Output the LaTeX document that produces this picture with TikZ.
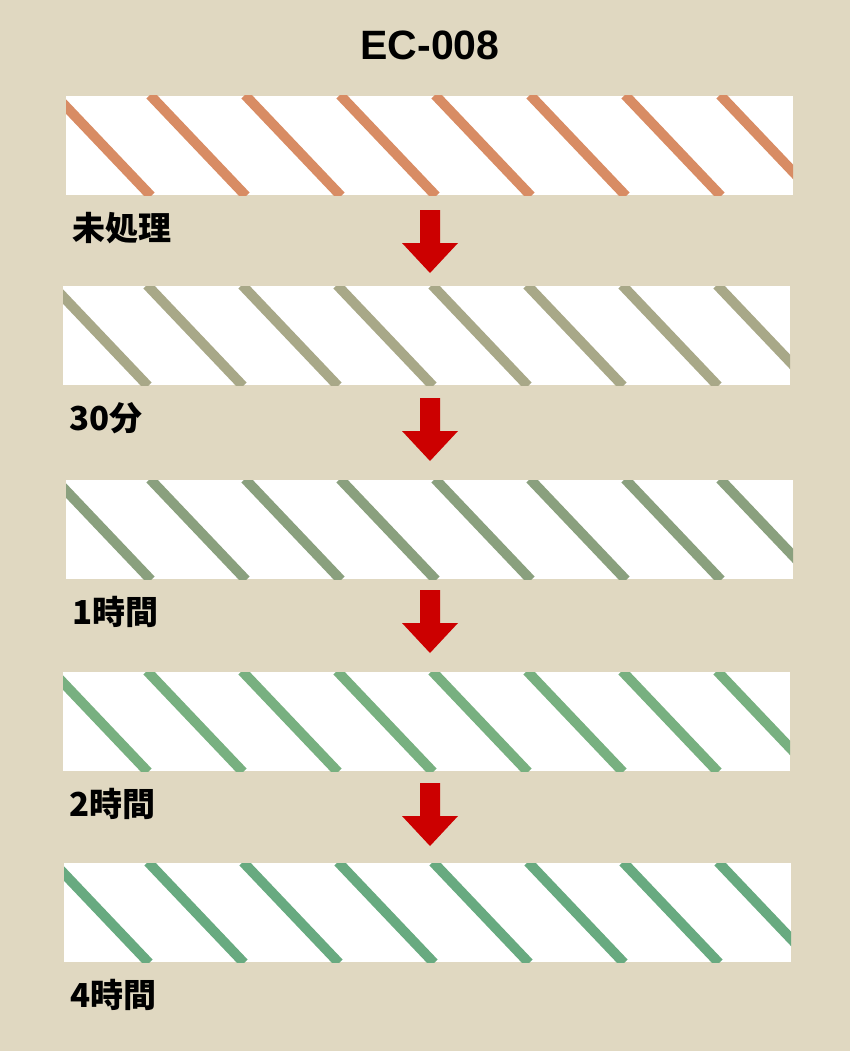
\documentclass[tikz,border=0pt]{standalone}
\usepackage{fontspec}
\newfontfamily\jp{Noto Sans CJK JP}
\newfontfamily\lat{Liberation Sans}
\begin{document}
\begin{tikzpicture}[x=1pt,y=-1pt,
  lbl/.style={anchor=west,font=\jp\bold\fontsize{33}{36}\selectfont,text=black,inner sep=0},
  arr/.style={fill=red!80!black}]
\def\bold{\fontseries{b}\selectfont}
\fill[fill={rgb,255:red,224;green,216;blue,193}] (0,0) rectangle (850,1051);
\useasboundingbox (0,0) rectangle (850,1051);
\node[font=\lat\bfseries\fontsize{41}{44}\selectfont] (title) at (430,45) {EC-008};
\definecolor{c1}{RGB}{216,140,100}
\definecolor{c2}{RGB}{168,168,136}
\definecolor{c3}{RGB}{138,160,126}
\definecolor{c4}{RGB}{120,176,128}
\definecolor{c5}{RGB}{104,170,128}
\foreach \x/\y/\c/\t [count=\i] in {66/96/c1/未処理,63/286/c2/30分,66/480/c3/1時間,63/672/c4/2時間,64/863/c5/4時間}{
  \fill[white] (\x,\y) rectangle (\x+727,\y+99);
  \begin{scope}
    \clip (\x,\y) rectangle (\x+727,\y+99);
    \foreach \k in {-1,...,8}{
      \draw[\c,line width=10pt] (\x-11+95*\k,\y-1) -- (\x-11+95*\k+96,\y+100);
    }
  \end{scope}
  \node[lbl] (l\i) at (\x+6,\y+132) {\t};
}
\foreach \y [count=\i] in {210,398,590,783}{
  \fill[arr] (420,\y) -- (440,\y) -- (440,\y+33) -- (458,\y+33) -- (430,\y+63) -- (402,\y+33) -- (420,\y+33) -- cycle;
}
\end{tikzpicture}
\end{document}
